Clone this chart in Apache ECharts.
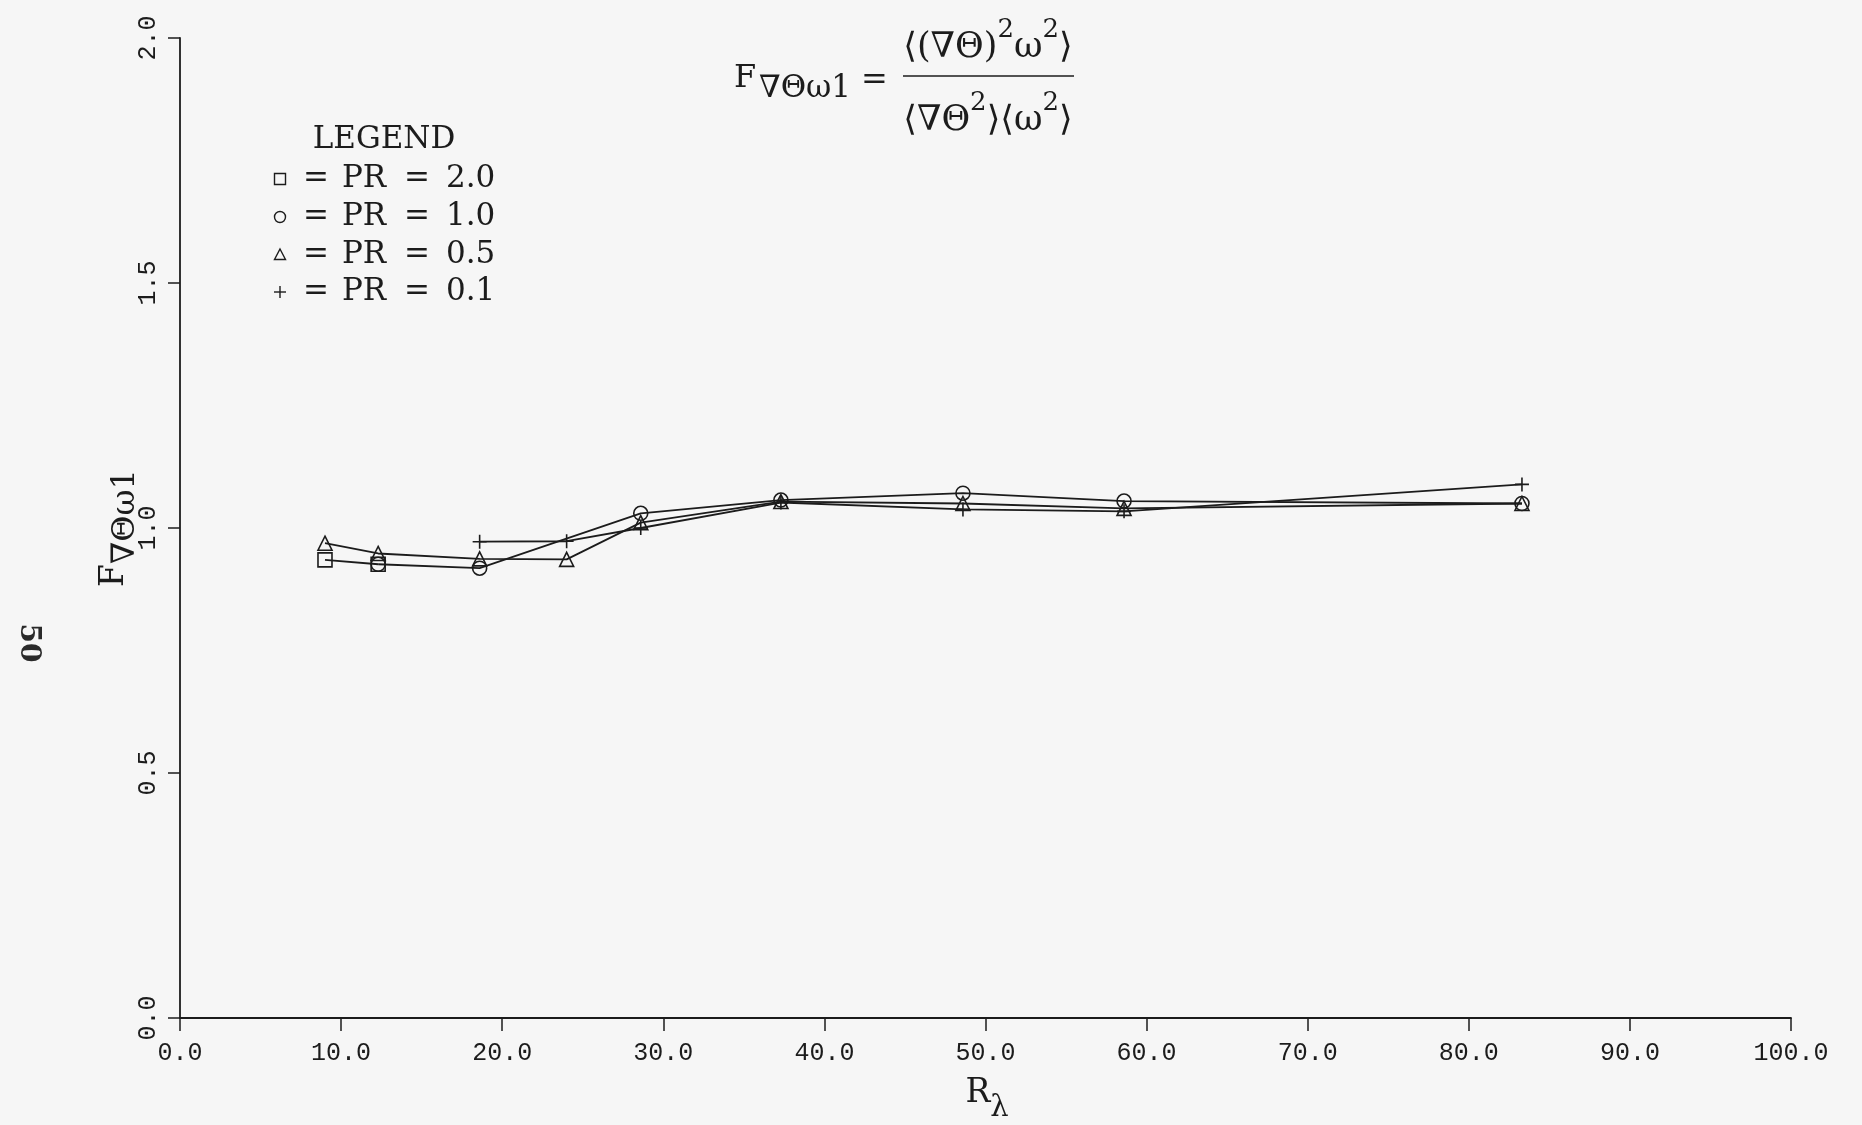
<!DOCTYPE html>
<html>
<head>
<meta charset="utf-8">
<title>F vs R_lambda</title>
<script src="https://cdn.jsdelivr.net/npm/echarts@6/dist/echarts.min.js"></script>
<style>
  html, body { margin: 0; padding: 0; background: #f6f6f6; }
  #chart { width: 1862px; height: 1125px; }
</style>
</head>
<body>
<div id="chart"></div>
<script>
// Taylor-microscale Reynolds number and flatness ratio, one pair of arrays per Prandtl number
const pr20R = [9.0, 12.3];
const pr20F = [0.935, 0.926];

const pr10R = [12.3, 18.6, 28.6, 37.3, 48.6, 58.6, 83.3];
const pr10F = [0.926, 0.918, 1.030, 1.057, 1.071, 1.055, 1.050];

const pr05R = [9.0, 12.3, 18.6, 24.0, 28.6, 37.3, 48.6, 58.6, 83.3];
const pr05F = [0.969, 0.948, 0.937, 0.936, 1.011, 1.054, 1.050, 1.040, 1.050];

const pr01R = [18.6, 24.0, 28.6, 37.3, 48.6, 58.6, 83.3];
const pr01F = [0.972, 0.973, 1.000, 1.052, 1.038, 1.034, 1.089];

const legendTitle = 'LEGEND';
const legendValues = ['2.0', '1.0', '0.5', '0.1'];

const INK = '#1c1c1c';
const SERIF = '"DejaVu Serif", "Liberation Serif", serif';
const MONO = '"Liberation Mono", "DejaVu Sans Mono", monospace';
const PLUS = 'path://M5,0L5,10M0,5L10,5';

function pairs(xs, ys) { return xs.map((x, i) => [x, ys[i]]); }

function lineSeries(name, xs, ys, symbol) {
  return {
    name: name,
    type: 'line',
    data: pairs(xs, ys),
    symbol: symbol,
    symbolSize: 14,
    showAllSymbol: true,
    lineStyle: { color: INK, width: 1.8 },
    itemStyle: { color: 'rgba(0,0,0,0)', borderColor: INK, borderWidth: 1.6 },
    emphasis: { disabled: true },
    z: 3
  };
}

function txt(x, y, text, font, align) {
  return { type: 'text', x: x, y: y,
    style: { text: text, font: font, fill: INK, align: align, verticalAlign: 'middle', textAlign: align, textVerticalAlign: 'middle' } };
}

// Hand-drawn key in the upper left of the plot
const legendSymbols = ['rect', 'circle', 'triangle', 'plus'];
const legendRowY = [179, 217, 255, 292];
const keyGraphics = [txt(384, 140, legendTitle, '31px ' + SERIF, 'center')];
legendValues.forEach((v, i) => {
  const y = legendRowY[i];
  const mx = 280;
  const s = { stroke: INK, lineWidth: 1.4, fill: 'none' };
  const kind = legendSymbols[i];
  if (kind === 'rect') keyGraphics.push({ type: 'rect', shape: { x: mx - 5.5, y: y - 5.5, width: 11, height: 11 }, style: s });
  if (kind === 'circle') keyGraphics.push({ type: 'circle', shape: { cx: mx, cy: y, r: 5.5 }, style: s });
  if (kind === 'triangle') keyGraphics.push({ type: 'polygon', shape: { points: [[mx, y - 6], [mx + 5.5, y + 4.5], [mx - 5.5, y + 4.5]] }, style: s });
  if (kind === 'plus') keyGraphics.push({ type: 'polyline', shape: { points: [[mx - 6, y], [mx + 6, y]] }, style: s },
                                        { type: 'polyline', shape: { points: [[mx, y - 6], [mx, y + 6]] }, style: s });
  [['=', 303], ['PR', 342], ['=', 404], [v, 446]].forEach(t => keyGraphics.push(txt(t[1], y, t[0], '31px ' + SERIF, 'left')));
});

// Definition of the plotted ratio, top centre
const fracRich = {
  m: { font: '35px ' + SERIF, fill: INK, lineHeight: 48, verticalAlign: 'bottom' },
  s: { font: '26px ' + SERIF, fill: INK, lineHeight: 48, verticalAlign: 'top' }
};
const formulaGraphics = [
  txt(734, 79, 'F', '32px ' + SERIF, 'left'),
  txt(759, 89, '∇Θω1', '31px ' + SERIF, 'left'),
  txt(861, 81, '=', '32px ' + SERIF, 'left'),
  { type: 'line', shape: { x1: 903, y1: 76, x2: 1074, y2: 76 }, style: { stroke: INK, lineWidth: 1.6 } },
  { type: 'text', x: 988, y: 41, style: {
      text: '{m|⟨(∇Θ)}{s|2}{m|ω}{s|2}{m|⟩}', align: 'center', verticalAlign: 'middle', textAlign: 'center', textVerticalAlign: 'middle', rich: fracRich } },
  { type: 'text', x: 988, y: 114, style: {
      text: '{m|⟨∇Θ}{s|2}{m|⟩⟨ω}{s|2}{m|⟩}', align: 'center', verticalAlign: 'middle', textAlign: 'center', textVerticalAlign: 'middle', rich: fracRich } }
];

// Axis titles and the page number
const titleGraphics = [
  { type: 'text', x: 120, y: 528, rotation: Math.PI / 2, style: {
      text: '{f|F}{s|∇Θω1}', align: 'center', verticalAlign: 'middle', textAlign: 'center', textVerticalAlign: 'middle',
      rich: { f: { font: '33px ' + SERIF, fill: INK, lineHeight: 44, verticalAlign: 'top' },
              s: { font: '32px ' + SERIF, fill: INK, lineHeight: 44, verticalAlign: 'bottom' } } } },
  { type: 'text', x: 987, y: 1100, style: {
      text: '{r|R}{s|λ}', align: 'center', verticalAlign: 'middle', textAlign: 'center', textVerticalAlign: 'middle',
      rich: { r: { font: '33px ' + SERIF, fill: INK, lineHeight: 46, verticalAlign: 'top' },
              s: { font: '29px ' + SERIF, fill: INK, lineHeight: 46, verticalAlign: 'bottom' } } } },
  { type: 'text', x: 28, y: 643, rotation: -Math.PI / 2, style: { text: '50', font: 'bold 28px ' + SERIF, fill: '#2a2a2a', align: 'center', verticalAlign: 'middle', textAlign: 'center', textVerticalAlign: 'middle' } }
];

const chart = echarts.init(document.getElementById('chart'), null, { renderer: 'canvas' });
chart.setOption({
  animation: false,
  backgroundColor: '#f6f6f6',
  grid: { left: 180, right: 71, top: 38, bottom: 107, containLabel: false },
  xAxis: {
    type: 'value', min: 0, max: 100, interval: 10,
    axisLine: { show: true, onZero: false, lineStyle: { color: INK, width: 1.8 } },
    axisTick: { show: true, inside: false, length: 13, lineStyle: { color: INK, width: 1.5 } },
    axisLabel: { margin: 23, color: INK, fontFamily: MONO, fontSize: 25, formatter: v => v.toFixed(1) },
    splitLine: { show: false }
  },
  yAxis: {
    type: 'value', min: 0, max: 2, interval: 0.5,
    axisLine: { show: true, onZero: false, lineStyle: { color: INK, width: 1.8 } },
    axisTick: { show: true, inside: false, length: 12, lineStyle: { color: INK, width: 1.5 } },
    axisLabel: { rotate: 90, margin: 19, color: INK, fontFamily: MONO, fontSize: 25, formatter: v => v.toFixed(1) },
    splitLine: { show: false }
  },
  series: [
    lineSeries('PR = 2.0', pr20R, pr20F, 'rect'),
    lineSeries('PR = 1.0', pr10R, pr10F, 'circle'),
    lineSeries('PR = 0.5', pr05R, pr05F, 'triangle'),
    lineSeries('PR = 0.1', pr01R, pr01F, PLUS)
  ],
  graphic: [].concat(keyGraphics, formulaGraphics, titleGraphics)
});
</script>
</body>
</html>
